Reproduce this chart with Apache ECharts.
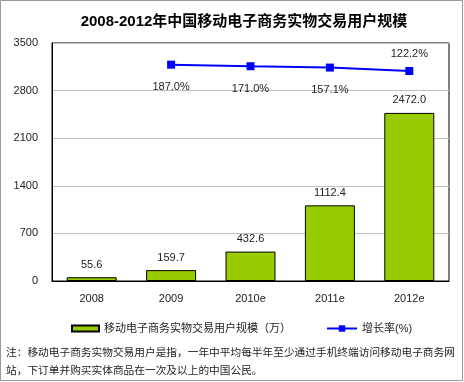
<!DOCTYPE html>
<html>
<head>
<meta charset="utf-8">
<script src="https://cdn.jsdelivr.net/npm/echarts@6/dist/echarts.min.js"></script>
<style>
html,body{margin:0;padding:0;background:#fff;}
#c{width:464px;height:382px;}
</style>
</head>
<body>
<div id="c"></div>
<script>
const categories = ['2008', '2009', '2010e', '2011e', '2012e'];
const userScale = [55.6, 159.7, 432.6, 1112.4, 2472.0];
const growthRate = [null, 187.0, 171.0, 157.1, 122.2];
const yTicks = [0, 700, 1400, 2100, 2800, 3500];
const titleText = '2008-2012年中国移动电子商务实物交易用户规模';
const barName = '移动电子商务实物交易用户规模（万）';
const lineName = '增长率(%)';
const noteLines = [
  '注：移动电子商务实物交易用户是指，一年中平均每半年至少通过手机终端访问移动电子商务网',
  '站，下订单并购买实体商品在一次及以上的中国公民。'
];

const FONT = '"Liberation Sans", "Noto Sans CJK SC", sans-serif';
const chart = echarts.init(document.getElementById('c'), null, {renderer: 'canvas'});

const lineData = growthRate.map((v, i) => {
  if (v === null) return null;
  if (i === growthRate.length - 1) {
    return {value: v, label: {position: 'top', distance: 8}};
  }
  return v;
});

chart.setOption({
  animation: false,
  backgroundColor: '#fff',
  textStyle: {fontFamily: FONT},
  grid: {left: 52, right: 15, top: 43, bottom: 101, show: true, borderColor: '#000', borderWidth: 1, containLabel: false},
  xAxis: {
    type: 'category',
    data: categories,
    axisLine: {show: true, lineStyle: {color: '#000', width: 1}},
    axisTick: {show: false},
    axisLabel: {color: '#222', fontSize: 11, margin: 12, fontFamily: FONT},
    splitLine: {show: false}
  },
  yAxis: [{
    type: 'value',
    min: yTicks[0],
    max: yTicks[yTicks.length - 1],
    interval: yTicks[1] - yTicks[0],
    axisLine: {show: true, lineStyle: {color: '#000'}},
    axisTick: {show: false},
    axisLabel: {color: '#222', fontSize: 11, margin: 14, fontFamily: FONT, formatter: v => String(v)},
    splitLine: {show: true, lineStyle: {color: '#c0c0c0', width: 1}}
  }, {
    type: 'value',
    min: -2038,
    max: 410,
    show: false,
    splitLine: {show: false}
  }],
  legend: [{
    data: [{name: barName, icon: 'rect'}],
    left: 66, top: 318,
    itemWidth: 27, itemHeight: 6, itemGap: 4,
    textStyle: {color: '#222', fontSize: 11, fontFamily: FONT}
  }, {
    data: [lineName],
    left: 321, top: 318,
    itemWidth: 30, itemHeight: 8, itemGap: 4,
    textStyle: {color: '#222', fontSize: 11, fontFamily: FONT}
  }],
  graphic: [
    {type: 'rect', shape: {x: 0.5, y: 0.5, width: 462, height: 380}, style: {fill: 'none', stroke: '#999', lineWidth: 1}, silent: true},
    {type: 'text', x: 244, y: 22, style: {text: titleText, textAlign: 'center', textVerticalAlign: 'middle', font: 'bold 15px ' + FONT, fill: '#000'}},
    {type: 'text', x: 6, y: 353, style: {text: noteLines[0], textAlign: 'left', textVerticalAlign: 'middle', font: '10.7px ' + FONT, fill: '#222'}},
    {type: 'text', x: 6, y: 371, style: {text: noteLines[1], textAlign: 'left', textVerticalAlign: 'middle', font: '10.7px ' + FONT, fill: '#222'}}
  ],
  series: [{
    name: barName,
    type: 'bar',
    data: userScale,
    barWidth: 50,
    itemStyle: {color: '#99CC00', borderColor: '#000', borderWidth: 1},
    label: {show: true, position: 'top', distance: 7, color: '#222', fontSize: 11, fontFamily: FONT,
      formatter: p => p.value.toFixed(1)}
  }, {
    name: lineName,
    type: 'line',
    yAxisIndex: 1,
    data: lineData,
    symbol: 'rect',
    symbolSize: 8,
    connectNulls: false,
    lineStyle: {color: '#0000FF', width: 2},
    itemStyle: {color: '#0000FF'},
    label: {show: true, position: 'bottom', distance: 13, color: '#222', fontSize: 11, fontFamily: FONT,
      formatter: p => p.value.toFixed(1) + '%'}
  }]
});
</script>
</body>
</html>
